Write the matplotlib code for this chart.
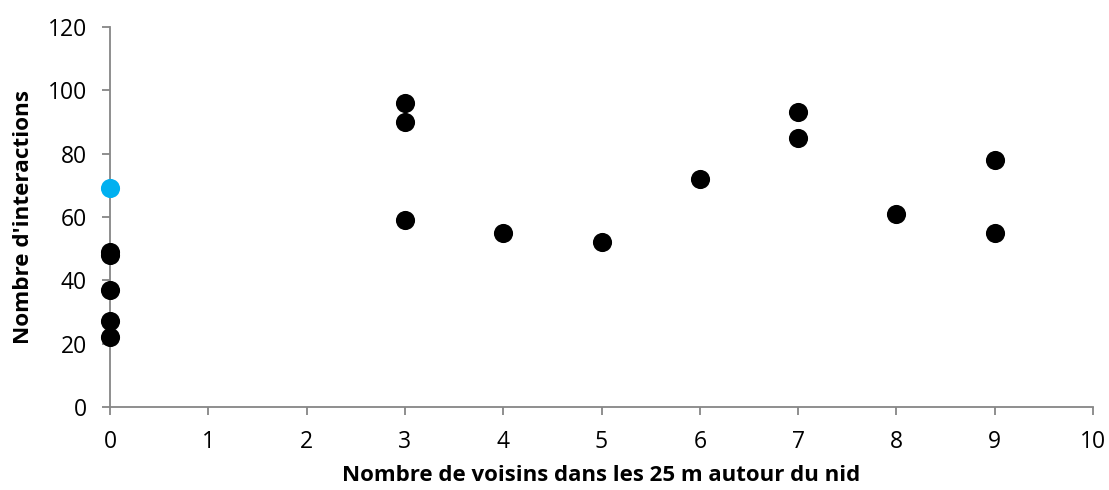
import matplotlib
matplotlib.use("Agg")
import matplotlib.pyplot as plt

# Data
x_black = [0, 0, 0, 0, 0, 3, 3, 3, 4, 5, 6, 7, 7, 8, 9, 9]
y_black = [49, 48, 37, 27, 22, 96, 90, 59, 55, 52, 72, 93, 85, 61, 78, 55]
x_blue = [0]
y_blue = [69]
x_ticks = list(range(0, 11))
y_ticks = list(range(0, 121, 20))

plt.rcParams['font.family'] = ['Open Sans', 'DejaVu Sans']

fig = plt.figure(figsize=(11.09, 4.9), dpi=100)
ax = fig.add_axes([0.0992, 0.1694, 0.8864, 0.7755])

ax.scatter(x_black, y_black, s=190, color='black', zorder=3, clip_on=False, linewidths=0)
ax.scatter(x_blue, y_blue, s=190, color='#00B0F0', zorder=3, clip_on=False, linewidths=0)

ax.set_xlim(0, 10)
ax.set_ylim(0, 120)
ax.set_xticks(x_ticks)
ax.set_yticks(y_ticks)

for s in ['top', 'right']:
    ax.spines[s].set_visible(False)
for s in ['left', 'bottom']:
    ax.spines[s].set_color('#868686')
    ax.spines[s].set_linewidth(1.3)
ax.tick_params(axis='both', colors='#868686', labelcolor='black', labelsize=16.5,
               length=5.5, width=1.3, direction='out')
ax.tick_params(axis='x', pad=11)
ax.tick_params(axis='y', pad=11)

ax.set_xlabel("Nombre de voisins dans les 25 m autour du nid", fontsize=16,
              fontweight='bold', labelpad=8)
ax.set_ylabel("Nombre d'interactions", fontsize=16.2, fontweight='bold', labelpad=10)

fig.savefig("out.png", dpi=100)
